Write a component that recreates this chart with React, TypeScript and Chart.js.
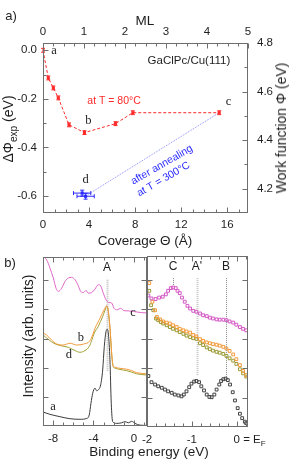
import React, { useEffect, useRef } from "react";
import { Chart, registerables } from "chart.js";

Chart.register(...registerables);

const SANS = '"Liberation Sans", Arial, Helvetica, sans-serif';
const SERIF = '"Liberation Serif", "Times New Roman", Times, serif';
const TXT = "#1e1e1e";
const FRAME = "#6e6e6e";
const RED = "#ff2a2a";
const BLUE = "#2a2aff";
const COL_A = "#3c3c3c";
const COL_B = "#f59a3c";
const COL_C = "#e066c8";
const COL_D = "#a0a034";

// ===== Panel a: work function vs coverage =====
const coverageRed = [0, 0.46, 0.9, 1.33, 2.26, 3.6, 6.3, 7.8, 15.3];
const dPhiRed = [0, -0.114, -0.155, -0.196, -0.307, -0.339, -0.302, -0.257, -0.257];
const dPhiRedErr = [0.008, 0.008, 0.008, 0.008, 0.008, 0.008, 0.008, 0.008, 0.008];
const coverageBlue = [3.4, 3.7];
const dPhiBlue = [-0.588, -0.601];
const coverageBlueErr = [0.75, 0.75];
const dPhiBlueErr = [0.012, 0.012];
const annealX = [3.9, 15.3];
const annealY = [-0.594, -0.257];

const coverageTicks = [0, 4, 8, 12, 16];
const coverageMinor = [1, 2, 3, 5, 6, 7, 9, 10, 11, 13, 14, 15, 17];
const mlTicks = [0, 1, 2, 3, 4, 5];
const mlMinor = [0.25, 0.5, 0.75, 1.25, 1.5, 1.75, 2.25, 2.5, 2.75, 3.25, 3.5, 3.75, 4.25, 4.5, 4.75];
const dPhiTicks = [0, -0.2, -0.4, -0.6];
const dPhiMinor = [-0.1, -0.3, -0.5];
const wfTicks = [4.2, 4.4, 4.6, 4.8];
const wfMinor = [4.3, 4.5, 4.7];

// ===== Panel b (left): full valence band spectra =====
const E_a = [-9.0, -8.31, -7.32, -6.33, -5.34, -4.67, -4.42, -4.25, -4.08, -3.85, -3.69, -3.52, -3.29, -3.09, -2.93, -2.76, -2.66, -2.52, -2.37, -2.24, -2.1, -1.7, -1.21, -0.88, -0.55, -0.22, 0.11, 0.6, 1.3];
const I_a = [0.48, 0.4, 0.32, 0.25, 0.23, 0.26, 0.38, 0.78, 1.12, 1.3, 1.21, 1.24, 1.41, 1.92, 2.73, 3.24, 3.32, 3.15, 2.27, 0.78, 0.15, 0.09, 0.11, 0.15, 0.11, 0.16, 0.09, 0.03, 0.02];
const E_b = [-9.0, -8.67, -8.17, -7.68, -7.0, -6.33, -5.67, -5.0, -4.34, -4.08, -3.85, -3.35, -2.9, -2.68, -2.52, -2.35, -2.2, -2.06, -1.9, -1.38, -0.72, -0.22, 0.28, 1.3];
const I_b = [3.19, 3.13, 2.96, 2.82, 2.78, 2.84, 2.78, 2.81, 2.93, 3.13, 3.35, 3.7, 4.02, 4.12, 3.92, 3.3, 2.5, 2.08, 2.02, 1.98, 1.95, 1.9, 1.83, 1.79];
const E_c = [-9.0, -8.63, -8.31, -7.98, -7.71, -7.48, -7.15, -6.82, -6.49, -6.16, -5.83, -5.5, -5.27, -5.01, -4.74, -4.51, -4.18, -3.85, -3.52, -3.29, -3.03, -2.76, -2.5, -2.2, -1.97, -1.64, -1.31, -0.98, -0.55, -0.06, 0.77, 1.3];
const I_c = [5.82, 5.7, 5.42, 5.08, 4.73, 4.62, 4.73, 4.96, 5.08, 5.1, 5.02, 4.81, 4.62, 4.58, 4.65, 4.56, 4.58, 4.7, 4.85, 4.81, 4.56, 4.33, 4.24, 4.22, 4.04, 3.99, 4.04, 3.96, 3.95, 3.93, 3.89, 3.88];
const E_d = [-9.0, -8.5, -7.81, -7.15, -6.49, -5.83, -5.34, -4.84, -4.42, -4.15, -3.92, -3.52, -3.1, -2.85, -2.68, -2.52, -2.35, -2.2, -2.06, -1.9, -1.38, -0.72, -0.22, 0.28, 1.3];
const I_d = [3.13, 2.98, 2.82, 2.75, 2.7, 2.59, 2.53, 2.59, 2.73, 2.96, 3.19, 3.42, 3.75, 3.98, 4.12, 3.9, 3.28, 2.48, 2.05, 1.99, 1.94, 1.9, 1.85, 1.79, 1.75];
const beWideTicks = [-8, -4, 0];
const beWideMinor = [-9, -7, -6, -5, -3, -2, -1, 1];
const intensityTicks = [1, 2, 3, 4, 5];

// ===== Panel b (right): near Fermi level =====
const E_pink = [-1.97, -1.9, -1.81, -1.73, -1.65, -1.58, -1.53, -1.47, -1.42, -1.36, -1.32, -1.27, -1.22, -1.16, -1.1, -1.04, -0.97, -0.9, -0.82, -0.75, -0.67, -0.6, -0.53, -0.45, -0.38, -0.3, -0.23, -0.16, -0.08, -0.01, 0.07, 0.14, 0.21];
const I_pink = [4.46, 4.36, 4.34, 4.39, 4.42, 4.5, 4.62, 4.71, 4.73, 4.71, 4.62, 4.54, 4.39, 4.25, 4.11, 4.02, 3.94, 3.91, 3.85, 3.79, 3.76, 3.71, 3.68, 3.65, 3.64, 3.64, 3.62, 3.58, 3.54, 3.47, 3.39, 3.33, 3.28];
const E_orange = [-1.95, -1.88, -1.82, -1.78, -1.71, -1.64, -1.56, -1.49, -1.42, -1.34, -1.27, -1.19, -1.12, -1.04, -0.97, -0.9, -0.82, -0.75, -0.67, -0.6, -0.53, -0.45, -0.38, -0.3, -0.23, -0.16, -0.08, -0.01, 0.07, 0.14, 0.21];
const I_orange = [4.88, 4.25, 3.96, 3.73, 3.65, 3.58, 3.54, 3.51, 3.45, 3.39, 3.33, 3.28, 3.24, 3.2, 3.12, 3.07, 2.98, 2.92, 2.87, 2.84, 2.81, 2.79, 2.76, 2.72, 2.66, 2.58, 2.46, 2.3, 2.1, 1.9, 1.76];
const E_olive = [-1.95, -1.91, -1.86, -1.8, -1.75, -1.69, -1.64, -1.56, -1.49, -1.42, -1.34, -1.27, -1.19, -1.12, -1.04, -0.97, -0.9, -0.82, -0.75, -0.67, -0.6, -0.53, -0.45, -0.38, -0.3, -0.23, -0.16, -0.08, -0.01, 0.07, 0.14, 0.21];
const I_olive = [4.62, 4.13, 3.96, 3.68, 3.62, 3.56, 3.51, 3.45, 3.39, 3.33, 3.28, 3.22, 3.16, 3.1, 3.05, 3.01, 2.99, 2.84, 2.78, 2.7, 2.64, 2.59, 2.55, 2.52, 2.48, 2.41, 2.33, 2.25, 2.14, 1.96, 1.82, 1.71];
const E_black = [-1.97, -1.9, -1.82, -1.75, -1.67, -1.6, -1.53, -1.45, -1.38, -1.3, -1.23, -1.18, -1.12, -1.06, -1.01, -0.95, -0.9, -0.84, -0.79, -0.73, -0.67, -0.61, -0.56, -0.5, -0.45, -0.39, -0.35, -0.3, -0.25, -0.2, -0.15, -0.09, -0.04, 0.02, 0.07, 0.12, 0.18, 0.21];
const I_black = [1.73, 1.52, 1.44, 1.38, 1.33, 1.27, 1.21, 1.16, 1.1, 1.07, 1.04, 1.1, 1.21, 1.35, 1.47, 1.54, 1.56, 1.52, 1.38, 1.24, 1.1, 1.02, 1.01, 1.1, 1.27, 1.44, 1.56, 1.62, 1.64, 1.59, 1.44, 1.18, 0.9, 0.64, 0.45, 0.3, 0.18, 0.13];
const beNearTicks = [-2, -1, 0];
const beNearMinor = [-1.8, -1.6, -1.4, -1.2, -0.8, -0.6, -0.4, -0.2, 0.2];

// peak markers: [energy, top, bottom]
const peakA = [-2.65, 5.02, 1.86];
const peakC = [-1.42, 5.05, 4.82];
const peakA2 = [-0.89, 5.05, 1.76];
const peakB = [-0.24, 5.05, 1.66];

// ---------- helpers ----------
const xy = (xs: number[], ys: number[]) => xs.map((x, i) => ({ x, y: ys[i] }));
const tickFont = { family: SANS, size: 11.5 };

type Tk = { scale: string; edge: "left" | "right" | "top" | "bottom"; major: number[]; minor: number[] };

function framePlugin(specs: Tk[]) {
  return {
    id: "frameTicks",
    afterDatasetsDraw(chart: any) {
      const { ctx, chartArea: a } = chart;
      ctx.save();
      ctx.strokeStyle = FRAME;
      ctx.lineWidth = 1;
      ctx.setLineDash([]);
      const L = Math.round(a.left) + 0.5;
      const R = Math.round(a.right) - 0.5;
      const T = Math.round(a.top) + 0.5;
      const B = Math.round(a.bottom) - 0.5;
      ctx.strokeRect(L, T, R - L, B - T);
      for (const t of specs) {
        const s = chart.scales[t.scale];
        const draw = (v: number, len: number) => {
          const p = Math.round(s.getPixelForValue(v)) + 0.5;
          ctx.beginPath();
          if (t.edge === "left") { ctx.moveTo(L, p); ctx.lineTo(L + len, p); }
          if (t.edge === "right") { ctx.moveTo(R, p); ctx.lineTo(R - len, p); }
          if (t.edge === "top") { ctx.moveTo(p, T); ctx.lineTo(p, T + len); }
          if (t.edge === "bottom") { ctx.moveTo(p, B); ctx.lineTo(p, B - len); }
          ctx.stroke();
        };
        t.major.forEach((v) => draw(v, 5));
        t.minor.forEach((v) => draw(v, 3));
      }
      ctx.restore();
    },
  };
}

type Ann = { x: number; y: number; text: string; font: string; color?: string; align?: CanvasTextAlign; rot?: number };

function annPlugin(list: Ann[]) {
  return {
    id: "annotations",
    afterDatasetsDraw(chart: any) {
      const { ctx } = chart;
      const sx = chart.scales.x;
      const sy = chart.scales.y;
      for (const a of list) {
        ctx.save();
        ctx.translate(sx.getPixelForValue(a.x), sy.getPixelForValue(a.y));
        if (a.rot) ctx.rotate((a.rot * Math.PI) / 180);
        ctx.font = a.font;
        ctx.fillStyle = a.color || TXT;
        ctx.textAlign = a.align || "center";
        ctx.textBaseline = "middle";
        ctx.fillText(a.text, 0, 0);
        ctx.restore();
      }
    },
  };
}

type VL = { p: number[]; color: string; width: number };
function vlinePlugin(lines: VL[]) {
  return {
    id: "vlines",
    beforeDatasetsDraw(chart: any) {
      const { ctx } = chart;
      const sx = chart.scales.x;
      const sy = chart.scales.y;
      ctx.save();
      ctx.setLineDash([1, 1]);
      for (const l of lines) {
        const px = Math.round(sx.getPixelForValue(l.p[0])) + 0.5;
        ctx.strokeStyle = l.color;
        ctx.lineWidth = l.width;
        ctx.beginPath();
        ctx.moveTo(px, sy.getPixelForValue(l.p[1]));
        ctx.lineTo(px, sy.getPixelForValue(l.p[2]));
        ctx.stroke();
      }
      ctx.restore();
    },
  };
}

const errPlugin = {
  id: "errorBars",
  afterDatasetsDraw(chart: any) {
    const { ctx } = chart;
    const sx = chart.scales.x;
    const sy = chart.scales.y;
    const seg = (x0: number, y0: number, x1: number, y1: number) => {
      ctx.beginPath();
      ctx.moveTo(x0, y0);
      ctx.lineTo(x1, y1);
      ctx.stroke();
    };
    ctx.save();
    ctx.lineWidth = 1;
    ctx.setLineDash([]);
    ctx.strokeStyle = RED;
    coverageRed.forEach((c, i) => {
      const px = sx.getPixelForValue(c);
      const y0 = sy.getPixelForValue(dPhiRed[i] - dPhiRedErr[i]);
      const y1 = sy.getPixelForValue(dPhiRed[i] + dPhiRedErr[i]);
      seg(px, y0, px, y1);
      seg(px - 2, y0, px + 2, y0);
      seg(px - 2, y1, px + 2, y1);
    });
    ctx.strokeStyle = BLUE;
    coverageBlue.forEach((c, i) => {
      const py = sy.getPixelForValue(dPhiBlue[i]);
      const px = sx.getPixelForValue(c);
      const x0 = sx.getPixelForValue(c - coverageBlueErr[i]);
      const x1 = sx.getPixelForValue(c + coverageBlueErr[i]);
      seg(x0, py, x1, py);
      seg(x0, py - 2, x0, py + 2);
      seg(x1, py - 2, x1, py + 2);
      const y0 = sy.getPixelForValue(dPhiBlue[i] - dPhiBlueErr[i]);
      const y1 = sy.getPixelForValue(dPhiBlue[i] + dPhiBlueErr[i]);
      seg(px, y0, px, y1);
      seg(px - 2, y0, px + 2, y0);
      seg(px - 2, y1, px + 2, y1);
    });
    ctx.restore();
  },
};

const efPlugin = {
  id: "fermiLabel",
  afterDraw(chart: any) {
    const { ctx, chartArea } = chart;
    const px = chart.scales.x.getPixelForValue(0);
    const y = chartArea.bottom + 6 + (11.5 * 1.2) / 2;
    ctx.save();
    ctx.font = `11.5px ${SANS}`;
    ctx.fillStyle = TXT;
    ctx.textAlign = "left";
    ctx.textBaseline = "middle";
    let x = px + ctx.measureText("0").width / 2;
    const main = " = E";
    ctx.fillText(main, x, y);
    x += ctx.measureText(main).width;
    ctx.font = `8px ${SANS}`;
    ctx.fillText("F", x, y + 3.5);
    ctx.restore();
  },
};

function axis(min: number, max: number, position: string, ticks: number[], size: number, padding: number, fmt: (v: number) => string) {
  const horizontal = position === "top" || position === "bottom";
  return {
    type: "linear",
    position,
    min,
    max,
    grid: { display: false, drawTicks: false },
    border: { display: false },
    afterBuildTicks: (s: any) => {
      s.ticks = ticks.map((v) => ({ value: v }));
    },
    afterFit: (s: any) => {
      if (horizontal) s.height = size;
      else s.width = size;
    },
    ticks: {
      font: tickFont,
      color: TXT,
      padding,
      maxRotation: 0,
      minRotation: 0,
      autoSkip: false,
      callback: (v: any) => fmt(Number(v)),
    },
  };
}

const baseOptions = {
  responsive: false,
  animation: false,
  devicePixelRatio: 1,
  events: [],
  plugins: { legend: { display: false }, tooltip: { enabled: false } },
};

function configA() {
  return {
    type: "scatter",
    data: {
      datasets: [
        {
          data: xy(coverageRed, dPhiRed),
          showLine: true,
          borderColor: RED,
          borderWidth: 1,
          borderDash: [3, 2],
          pointStyle: "rect",
          pointRadius: 2.2,
          pointBackgroundColor: RED,
          pointBorderColor: RED,
          pointBorderWidth: 0,
        },
        {
          data: xy(coverageBlue, dPhiBlue),
          showLine: false,
          pointStyle: "rect",
          pointRadius: 2.2,
          pointBackgroundColor: BLUE,
          pointBorderColor: BLUE,
          pointBorderWidth: 0,
        },
        {
          data: xy(annealX, annealY),
          showLine: true,
          borderColor: "#8c8cff",
          borderWidth: 1,
          borderDash: [1, 1],
          pointRadius: 0,
        },
      ],
    },
    options: {
      ...baseOptions,
      layout: { padding: 0 },
      scales: {
        x: axis(0, 17.8, "bottom", coverageTicks, 37, 5, (v) => String(v)),
        x2: axis(0, 5, "top", mlTicks, 43, 4, (v) => String(v)),
        y: axis(-0.67, 0.03, "left", dPhiTicks, 43, 6, (v) => v.toFixed(1)),
        y1: axis(4.1, 4.8, "right", wfTicks, 43, 9, (v) => v.toFixed(1)),
      },
    },
    plugins: [
      errPlugin,
      framePlugin([
        { scale: "y", edge: "left", major: dPhiTicks, minor: dPhiMinor },
        { scale: "y1", edge: "right", major: wfTicks, minor: wfMinor },
        { scale: "x", edge: "bottom", major: coverageTicks, minor: coverageMinor },
        { scale: "x2", edge: "top", major: mlTicks, minor: mlMinor },
      ]),
      annPlugin([
        { x: 0.96, y: -0.003, text: "a", font: `12.5px ${SERIF}` },
        { x: 3.94, y: -0.289, text: "b", font: `12.5px ${SERIF}` },
        { x: 16.1, y: -0.211, text: "c", font: `12.5px ${SERIF}` },
        { x: 3.71, y: -0.535, text: "d", font: `12.5px ${SERIF}` },
        { x: 16.26, y: -0.042, text: "GaClPc/Cu(111)", font: `11.5px ${SANS}`, align: "right" },
        { x: 6.17, y: -0.208, text: "at T = 80°C", font: `10.5px ${SANS}`, color: RED },
        { x: 10.32, y: -0.472, text: "after annealing", font: `10.5px ${SANS}`, color: BLUE, rot: -30 },
        { x: 10.46, y: -0.531, text: "at T = 300°C", font: `10.5px ${SANS}`, color: BLUE, rot: -30 },
      ]),
    ],
  };
}

const lineDs = (xs: number[], ys: number[], color: string) => ({
  data: xy(xs, ys),
  showLine: true,
  borderColor: color,
  borderWidth: 1,
  pointRadius: 0,
  cubicInterpolationMode: "monotone",
  fill: false,
});

function configBL() {
  return {
    type: "scatter",
    data: {
      datasets: [lineDs(E_b, I_b, COL_B), lineDs(E_d, I_d, COL_D), lineDs(E_c, I_c, COL_C), lineDs(E_a, I_a, COL_A)],
    },
    options: {
      ...baseOptions,
      layout: { padding: { left: 43, right: 13, top: 7, bottom: 0 } },
      scales: {
        x: axis(-9, 1.3, "bottom", beWideTicks, 36, 6, (v) => String(v)),
        y: { type: "linear", display: false, min: 0, max: 5.8 },
      },
    },
    plugins: [
      vlinePlugin([{ p: peakA, color: "#bdbdbd", width: 2 }]),
      framePlugin([
        { scale: "y", edge: "left", major: intensityTicks, minor: [] },
        { scale: "y", edge: "right", major: intensityTicks, minor: [] },
        { scale: "x", edge: "bottom", major: beWideTicks, minor: beWideMinor },
        { scale: "x", edge: "top", major: beWideTicks, minor: beWideMinor },
      ]),
      annPlugin([
        { x: -2.65, y: 5.43, text: "A", font: `12px ${SANS}` },
        { x: -0.09, y: 3.88, text: "c", font: `12.5px ${SERIF}` },
        { x: -5.24, y: 3.02, text: "b", font: `12.5px ${SERIF}` },
        { x: -6.43, y: 2.44, text: "d", font: `12.5px ${SERIF}` },
        { x: -8.0, y: 0.65, text: "a", font: `12.5px ${SERIF}` },
      ]),
    ],
  };
}

const ptDs = (xs: number[], ys: number[], color: string) => ({
  data: xy(xs, ys),
  showLine: false,
  pointStyle: "rect",
  pointRadius: 2.0,
  pointBorderWidth: 1,
  pointBorderColor: color,
  pointBackgroundColor: "rgba(0,0,0,0)",
});

function configBR() {
  return {
    type: "scatter",
    data: {
      datasets: [
        ptDs(E_pink, I_pink, "#d458c4"),
        ptDs(E_orange, I_orange, "#f29a3a"),
        ptDs(E_olive, I_olive, "#9a9a36"),
        ptDs(E_black, I_black, "#444444"),
      ],
    },
    options: {
      ...baseOptions,
      layout: { padding: { left: 27, right: 43, top: 6, bottom: 0 } },
      scales: {
        x: axis(-2, 0.25, "bottom", beNearTicks, 35, 6, (v) => String(v)),
        y: { type: "linear", display: false, min: 0, max: 5.8 },
      },
    },
    plugins: [
      vlinePlugin([
        { p: peakC, color: "#8a8a8a", width: 1 },
        { p: peakA2, color: "#c4c4c4", width: 2 },
        { p: peakB, color: "#8a8a8a", width: 1 },
      ]),
      framePlugin([
        { scale: "y", edge: "left", major: intensityTicks, minor: [] },
        { scale: "y", edge: "right", major: intensityTicks, minor: [] },
        { scale: "x", edge: "bottom", major: beNearTicks, minor: beNearMinor },
        { scale: "x", edge: "top", major: beNearTicks, minor: beNearMinor },
      ]),
      annPlugin([
        { x: -1.42, y: 5.43, text: "C", font: `12px ${SANS}` },
        { x: -0.89, y: 5.43, text: "A'", font: `12px ${SANS}` },
        { x: -0.24, y: 5.43, text: "B", font: `12px ${SANS}` },
      ]),
      efPlugin,
    ],
  };
}

function ChartCanvas(props: { left: number; top: number; width: number; height: number; config: () => any }) {
  const ref = useRef<HTMLCanvasElement>(null);
  useEffect(() => {
    const chart = new Chart(ref.current as HTMLCanvasElement, props.config());
    return () => chart.destroy();
  }, []);
  return (
    <canvas
      ref={ref}
      width={props.width}
      height={props.height}
      style={{ position: "absolute", left: props.left, top: props.top, width: props.width, height: props.height }}
    />
  );
}

function Txt(props: { x: number; y: number; size?: number; rot?: number; children: any }) {
  return (
    <div
      style={{
        position: "absolute",
        left: props.x,
        top: props.y,
        transform: `translate(-50%, -50%) rotate(${props.rot || 0}deg)`,
        fontSize: props.size || 13.5,
        lineHeight: 1,
        whiteSpace: "nowrap",
        color: TXT,
      }}
    >
      {props.children}
    </div>
  );
}

export default function App() {
  return (
    <div
      style={{
        position: "fixed",
        left: 0,
        top: 0,
        width: 291,
        height: 462,
        background: "#ffffff",
        fontFamily: SANS,
        overflow: "hidden",
      }}
    >
      <ChartCanvas left={0} top={0} width={291} height={250} config={configA} />
      <ChartCanvas left={0} top={250} width={160} height={212} config={configBL} />
      <ChartCanvas left={120} top={250} width={171} height={212} config={configBR} />

      <Txt x={11} y={15} size={13}>a)</Txt>
      <Txt x={145} y={21} size={13.5}>ML</Txt>
      <Txt x={145} y={241} size={13.5}>Coverage Θ (Å)</Txt>
      <Txt x={10} y={129} size={14} rot={-90}>
        ΔΦ<sub style={{ fontSize: "0.72em" }}>exp</sub> (eV)
      </Txt>
      <Txt x={281} y={128} size={14} rot={-90}>Work function Φ (eV)</Txt>

      <Txt x={10} y={262} size={13}>b)</Txt>
      <Txt x={28} y={336} size={14} rot={-90}>Intensity (arb. units)</Txt>
      <Txt x={149} y={452} size={13.5}>Binding energy (eV)</Txt>
    </div>
  );
}
